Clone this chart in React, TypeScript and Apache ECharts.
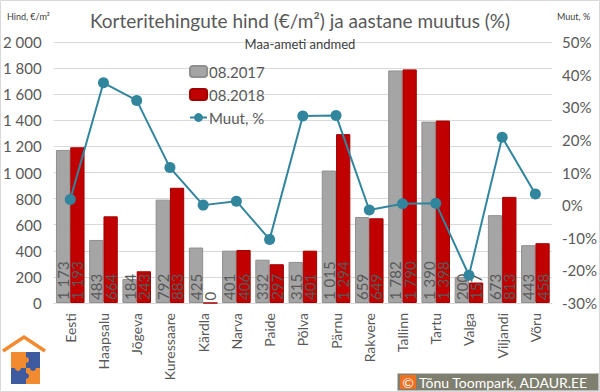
import React, { useEffect, useRef } from "react";
import * as echarts from "echarts";

const categories = ["Eesti", "Haapsalu", "Jõgeva", "Kuressaare", "Kärdla", "Narva", "Paide", "Põlva", "Pärnu", "Rakvere", "Tallinn", "Tartu", "Valga", "Viljandi", "Võru"];
const price2017 = [1173, 483, 184, 792, 425, 401, 332, 315, 1015, 659, 1782, 1390, 200, 673, 443];
const price2018 = [1193, 664, 243, 883, 0, 406, 297, 401, 1294, 649, 1790, 1398, 157, 813, 458];
const changePct = [1.7, 37.5, 32.1, 11.5, 0, 1.2, -10.5, 27.3, 27.5, -1.5, 0.4, 0.6, -21.5, 20.8, 3.4];

const FONT = "Lato, 'Noto Sans', sans-serif";
const fmt = (v: number) => String(v).replace(/\B(?=(\d{3})+(?!\d))/g, " ");

export default function App() {
  const ref = useRef<HTMLDivElement>(null);
  useEffect(() => {
    const chart = echarts.init(ref.current!, null, { renderer: "svg" });
    const barLabel = {
      show: true,
      position: "insideBottom" as const,
      rotate: 90,
      align: "left" as const,
      verticalAlign: "middle" as const,
      distance: 3,
      color: "#595959",
      fontSize: 15,
      fontFamily: FONT,
      formatter: (p: any) => fmt(p.value),
    };
    chart.setOption({
      animation: false,
      backgroundColor: "#ffffff",
      textStyle: { fontFamily: FONT },
      title: [
        { text: "Korteritehingute hind (€/m²) ja aastane muutus (%)", left: "center", top: 6, textStyle: { fontSize: 19, fontWeight: "normal", color: "#595959", fontFamily: FONT } },
        { text: "Maa-ameti andmed", left: "center", top: 32, textStyle: { fontSize: 13, fontWeight: "normal", color: "#404040", fontFamily: FONT } },
      ],
      legend: {
        orient: "vertical",
        left: 184,
        top: 59,
        itemGap: 8,
        itemWidth: 17,
        itemHeight: 11,
        textStyle: { fontSize: 15, color: "#595959", fontFamily: FONT, padding: [0, 0, 0, -3] },
        data: ["08.2017", "08.2018", "Muut, %"],
      },
      grid: { left: 53, right: 45, top: 42, bottom: 89 },
      xAxis: {
        type: "category",
        data: categories,
        axisLine: { lineStyle: { color: "#d9d9d9" } },
        axisTick: { show: false },
        axisLabel: { rotate: 90, color: "#595959", fontSize: 14, fontFamily: FONT, margin: 10, interval: 0 },
      },
      yAxis: [
        {
          type: "value",
          min: 0,
          max: 2000,
          interval: 200,
          axisLabel: { color: "#595959", fontSize: 15, fontFamily: FONT, formatter: (v: number) => fmt(v), margin: 12 },
          splitLine: { lineStyle: { color: "#d9d9d9" } },
          axisLine: { show: false },
          axisTick: { show: false },
        },
        {
          type: "value",
          min: -30,
          max: 50,
          interval: 10,
          axisLabel: { color: "#595959", fontSize: 15, fontFamily: FONT, formatter: "{value}%", margin: 10 },
          splitLine: { show: false },
          axisLine: { show: false },
          axisTick: { show: false },
        },
      ],
      series: [
        {
          name: "08.2017",
          type: "bar",
          data: price2017,
          barGap: "0%",
          barCategoryGap: "14%",
          itemStyle: { color: "#A5A5A5", borderColor: "#8f8f8f", borderWidth: 1 },
          label: barLabel,
        },
        {
          name: "08.2018",
          type: "bar",
          data: price2018,
          itemStyle: { color: "#C00000", borderColor: "#a00000", borderWidth: 1 },
          label: barLabel,
        },
        {
          name: "Muut, %",
          type: "line",
          yAxisIndex: 1,
          data: changePct,
          symbol: "circle",
          symbolSize: 11,
          z: 5,
          lineStyle: { color: "#31859C", width: 2 },
          itemStyle: { color: "#31859C" },
        },
      ],
      graphic: [
        { type: "rect", shape: { x: 0.5, y: 0.5, width: 599, height: 391 }, style: { fill: "none", stroke: "#d9d9d9", lineWidth: 1 }, silent: true },
        { type: "text", left: 7, top: 12, style: { text: "Hind, €/m²", fontSize: 9, fill: "#404040", fontFamily: FONT } },
        { type: "text", left: 557, top: 12, style: { text: "Muut, %", fontSize: 9, fill: "#404040", fontFamily: FONT } },
        // logo
        { type: "polyline", shape: { points: [[3, 351], [24, 337], [45, 351]] }, style: { stroke: "#F28A30", lineWidth: 3.5, fill: "none" } },
        { type: "rect", shape: { x: 11, y: 352, width: 15, height: 16 }, style: { fill: "#F28A30" } },
        { type: "rect", shape: { x: 26, y: 352, width: 14, height: 16 }, style: { fill: "#3F5BA0" } },
        { type: "rect", shape: { x: 11, y: 368, width: 15, height: 16 }, style: { fill: "#3F5BA0" } },
        { type: "rect", shape: { x: 26, y: 368, width: 14, height: 16 }, style: { fill: "#F28A30" } },
        { type: "circle", shape: { cx: 26, cy: 360, r: 3 }, style: { fill: "#F28A30" } },
        { type: "circle", shape: { cx: 18, cy: 368, r: 3 }, style: { fill: "#F28A30" } },
        { type: "circle", shape: { cx: 33, cy: 368, r: 3 }, style: { fill: "#3F5BA0" } },
        { type: "circle", shape: { cx: 26, cy: 376, r: 3 }, style: { fill: "#3F5BA0" } },
        // credit
        { type: "rect", shape: { x: 397.5, y: 373.5, width: 201, height: 17 }, style: { fill: "#7F7F6F", stroke: "#bfbfbf", lineWidth: 1 } },
        { type: "rect", shape: { x: 400, y: 375, width: 16, height: 14 }, style: { fill: "#F07020" } },
        { type: "text", x: 408, y: 382, style: { text: "©", fontSize: 14, fill: "#ffffff", fontFamily: FONT, align: "center", verticalAlign: "middle" } },
        { type: "text", x: 419, y: 382, style: { text: "Tõnu Toompark, ADAUR.EE", fontSize: 14, fill: "#ffffff", fontFamily: FONT, verticalAlign: "middle" } },
      ],
    });
    return () => chart.dispose();
  }, []);
  return <div ref={ref} style={{ position: "absolute", left: 0, top: 0, width: 600, height: 392 }} />;
}
